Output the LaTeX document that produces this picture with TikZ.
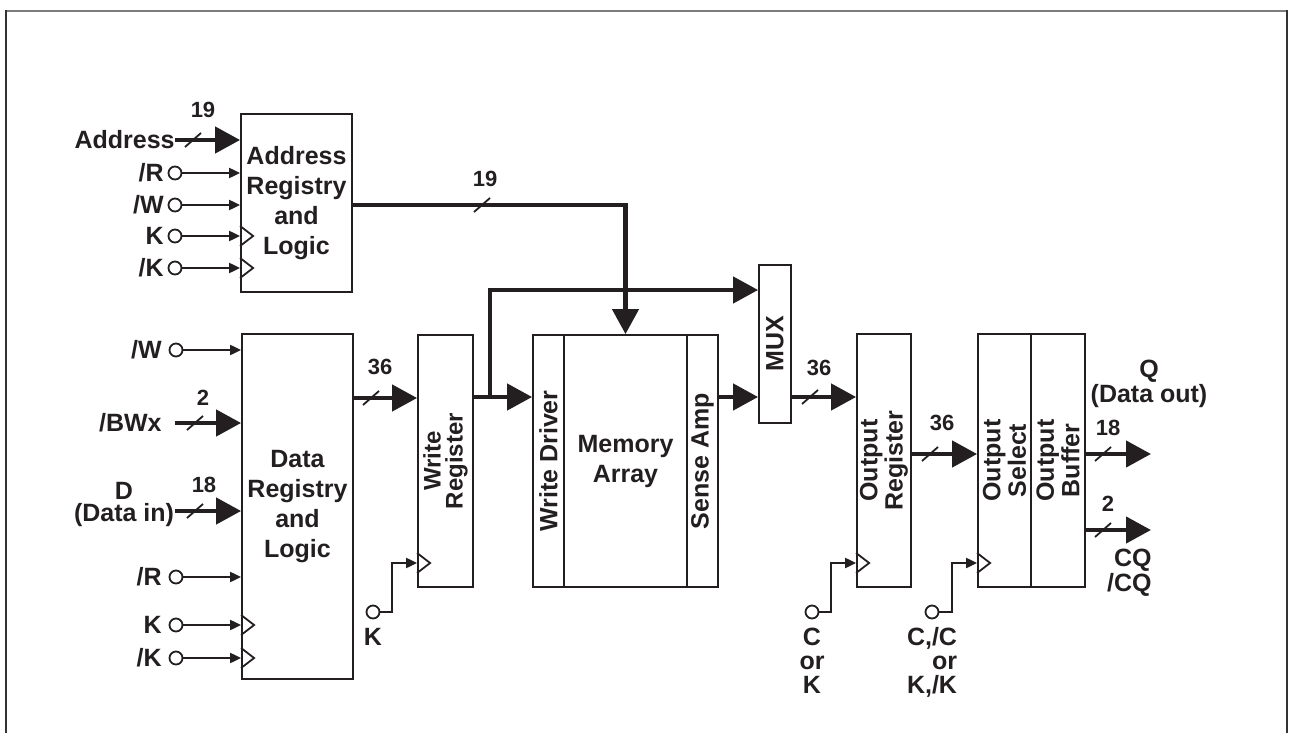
\documentclass[tikz,border=0pt]{standalone}
\usepackage{fontspec}
\setmainfont{Liberation Sans}
\usetikzlibrary{arrows.meta, positioning, fit, calc}
\definecolor{inkBlack}{RGB}{35,31,32}
\definecolor{frameGray}{RGB}{125,125,125}
\definecolor{frameDark}{RGB}{50,50,50}
\newcommand{\clocktri}[1]{\draw[box line] ($(#1)+(0,10)$) -- ++(13,-10) -- ++(-13,-10);}
\newcommand{\busslash}[1]{\draw[slash line] ($(#1)+(-8,7)$) -- ($(#1)+(8,-7)$);}

\begin{document}
\begin{tikzpicture}[x=0.5pt, y=-0.5pt,
    blk/.style={draw=inkBlack, line width=0.9pt, inner sep=0pt},
    box line/.style={draw=inkBlack, line width=0.9pt},
    sig/.style={draw=inkBlack, line width=1pt, -{Triangle[length=5.5pt, width=5pt]}},
    bus/.style={draw=inkBlack, line width=2.2pt, -{Triangle[length=12.5pt, width=13pt]}},
    slash line/.style={draw=inkBlack, line width=0.9pt},
    pin/.style={circle, draw=inkBlack, line width=0.9pt, inner sep=0pt, minimum size=6.5pt},
    lbl/.style={inner sep=0pt, text=inkBlack, font=\bfseries\fontsize{12.5}{15}\selectfont},
    num/.style={inner sep=0pt, text=inkBlack, font=\bfseries\fontsize{11}{12}\selectfont},
    vtxt/.style={lbl, rotate=90, align=center, font=\bfseries\fontsize{12.5}{11}\selectfont}]
        \useasboundingbox (0,0) rectangle (1290,733);
        % frame
        \draw[frameGray, line width=1pt] (6,11) -- (1287,11);
        \draw[frameDark, line width=1pt] (6,10.5) -- (6,733) (1287,10.5) -- (1287,733);

        % blocks
        \node[blk, fit={(241,114) (352,292)}] (addr) {};
        \node[lbl, align=center] (addrtxt) at (addr.center) {Address\\Registry\\and\\Logic};
        \node[blk, fit={(242,334) (353,679)}] (data) {};
        \node[lbl, align=center] (datatxt) at (data.center) {Data\\Registry\\and\\Logic};
        \node[blk, fit={(418,335) (473,587)}] (wreg) {};
        \node[vtxt, font=\bfseries\fontsize{12}{11}\selectfont] (wregtxt) at (wreg.center) {Write\\Register};
        \node[blk, fit={(533,335) (564,587)}] (wdrv) {};
        \node[vtxt] (wdrvtxt) at (wdrv.center) {Write Driver};
        \node[blk, fit={(564,335) (687,587)}] (mem) {};
        \node[lbl, align=center] (memtxt) at (mem.center) {Memory\\Array};
        \node[blk, fit={(687,335) (718,587)}] (samp) {};
        \node[vtxt] (samptxt) at (samp.center) {Sense Amp};
        \node[blk, fit={(759,265) (791,423)}] (mux) {};
        \node[vtxt] (muxtxt) at (mux.center) {MUX};
        \node[blk, fit={(857,334) (911,587)}] (oreg) {};
        \node[vtxt] (oregtxt) at (oreg.center) {Output\\Register};
        \node[blk, fit={(978,334) (1031,587)}] (osel) {};
        \node[vtxt] (oseltxt) at (osel.center) {Output\\Select};
        \node[blk, fit={(1031,334) (1085,587)}] (obuf) {};
        \node[vtxt] (obuftxt) at (obuf.center) {Output\\Buffer};

        % address inputs
        \coordinate (addrin) at (175,140);
        \node[lbl, anchor=east] (addrlbl) at (addrin) {Address};
        \draw[bus] (addrin) -- (addrin -| addr.west);
        \busslash{193,140}
        \node[num] (addrw) at (203,110) {19};
        \node[pin] (ra) at (175,173) {};
        \node[lbl, anchor=east] (ralbl) at (164,173) {/R};
        \draw[sig] (ra) -- (ra -| addr.west);
        \node[pin] (wa) at (175,205) {};
        \node[lbl, anchor=east] (walbl) at (164,205) {/W};
        \draw[sig] (wa) -- (wa -| addr.west);
        \node[pin] (ka) at (175,236) {};
        \node[lbl, anchor=east] (kalbl) at (164,236) {K};
        \draw[sig] (ka) -- (ka -| addr.west);
        \clocktri{addr.west |- ka}
        \node[pin] (nka) at (175,268) {};
        \node[lbl, anchor=east] (nkalbl) at (164,268) {/K};
        \draw[sig] (nka) -- (nka -| addr.west);
        \clocktri{addr.west |- nka}

        % data inputs
        \node[pin] (wd) at (176,350) {};
        \node[lbl, anchor=east] (wdlbl) at (162,350) {/W};
        \draw[sig] (wd) -- (wd -| data.west);
        \coordinate (bwin) at (175,423);
        \node[lbl, anchor=east] (bwlbl) at (162,423) {/BWx};
        \draw[bus] (bwin) -- (bwin -| data.west);
        \busslash{195,423}
        \node[num] (bww) at (203,398) {2};
        \coordinate (din) at (175,511);
        \node[lbl, align=center, font=\bfseries\fontsize{12.5}{11}\selectfont] (dlbl) at (124,504) {D\\(Data in)};
        \draw[bus] (din) -- (din -| data.west);
        \busslash{195,511}
        \node[num] (dw) at (204,485) {18};
        \node[pin] (rd) at (176,577) {};
        \node[lbl, anchor=east] (rdlbl) at (162,577) {/R};
        \draw[sig] (rd) -- (rd -| data.west);
        \node[pin] (kd) at (176,625) {};
        \node[lbl, anchor=east] (kdlbl) at (162,625) {K};
        \draw[sig] (kd) -- (kd -| data.west);
        \clocktri{data.west |- kd}
        \node[pin] (nkd) at (176,658) {};
        \node[lbl, anchor=east] (nkdlbl) at (162,658) {/K};
        \draw[sig] (nkd) -- (nkd -| data.west);
        \clocktri{data.west |- nkd}

        % write path
        \coordinate (wbus) at (0,398);
        \draw[bus] (data.east |- wbus) -- (wreg.west |- wbus);
        \busslash{371,398}
        \node[num] (wbusw) at (380,367) {36};
        \coordinate (dpath) at (0,397);
        \coordinate (branch) at (490,397);
        \coordinate (muxtap) at (0,290);
        \draw[bus] (wreg.east |- dpath) -- (wdrv.west |- dpath);
        \draw[bus] (branch) |- (mux.west |- muxtap);
        \coordinate (addrbus) at (0,205);
        \draw[bus] (addr.east |- addrbus) -| (mem.north);
        \busslash{482,205}
        \node[num] (addrbusw) at (485,179) {19};
        \node[pin] (kw) at (373,612) {};
        \node[lbl, below=4pt of kw] (kwlbl) {K};
        \coordinate (wclk) at (392,563);
        \draw[sig] (kw) -| (wclk) -- (wreg.west |- wclk);
        \clocktri{wreg.west |- wclk}

        % read path
        \draw[bus] (samp.east |- dpath) -- (mux.west |- dpath);
        \draw[bus] (mux.east |- dpath) -- (oreg.west |- dpath);
        \busslash{810,397}
        \node[num] (muxw) at (819,368) {36};
        \coordinate (opath) at (0,454);
        \draw[bus] (oreg.east |- opath) -- (osel.west |- opath);
        \busslash{930,454}
        \node[num] (oregw) at (942,423) {36};
        \node[pin] (ko) at (812,612) {};
        \node[lbl, below=4pt of ko, align=center, font=\bfseries\fontsize{12.5}{12}\selectfont] (kolbl) {C\\or\\K};
        \coordinate (oclk) at (831,563);
        \draw[sig] (ko) -| (oclk) -- (oreg.west |- oclk);
        \clocktri{oreg.west |- oclk}
        \node[pin] (ks) at (932,612) {};
        \node[lbl, below=4pt of ks, align=right, font=\bfseries\fontsize{12.5}{12}\selectfont] (kslbl) {C,/C\\or\\K,/K};
        \coordinate (sclk) at (952,563);
        \draw[sig] (ks) -| (sclk) -- (osel.west |- sclk);
        \clocktri{osel.west |- sclk}

        % outputs
        \coordinate (qend) at (1151,454);
        \draw[bus] (obuf.east |- qend) -- (qend);
        \busslash{1103,454}
        \node[num] (qw) at (1108,428) {18};
        \node[lbl, align=center, font=\bfseries\fontsize{12.5}{11}\selectfont] (qlbl) at (1149,384) {Q\\(Data out)};
        \coordinate (cqend) at (1151,530);
        \draw[bus] (obuf.east |- cqend) -- (cqend);
        \busslash{1103,530}
        \node[num] (cqw) at (1108,504) {2};
        \node[lbl, anchor=east, align=right, font=\bfseries\fontsize{12.5}{10}\selectfont] (cqlbl) at (1152,573) {CQ\\/CQ};
      \end{tikzpicture}
\end{document}
